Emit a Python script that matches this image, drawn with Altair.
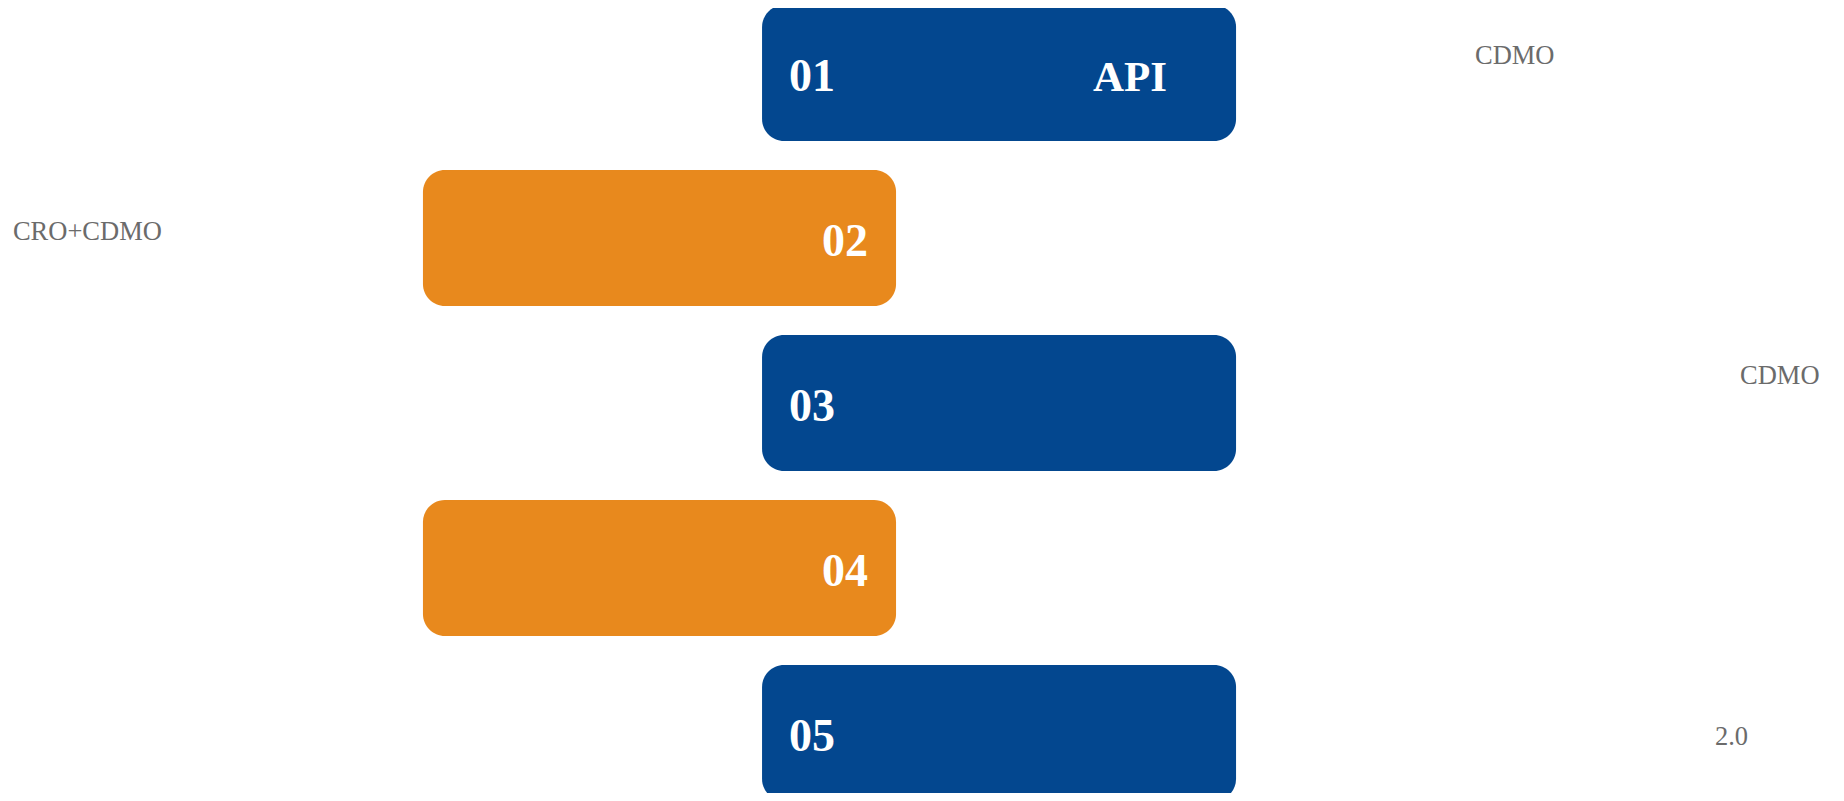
import altair as alt
import pandas as pd

# --- data -------------------------------------------------------------
steps = ["01", "02", "03", "04", "05"]
rows = [1, 2, 3, 4, 5]
box_start = [41.25, 22.70, 41.25, 22.70, 41.25]
box_end = [67.18, 48.58, 67.18, 48.58, 67.18]
groups = ["blue", "orange", "blue", "orange", "blue"]

inner_labels = ["API"]
inner_x = [59.35]
inner_row = [1]

side_labels = ["CDMO", "CRO+CDMO", "CDMO", "2.0"]
side_x = [80.25, 0.27, 94.75, 93.38]
side_y = [0.945, 2.012, 2.885, 5.072]

# --- tables -----------------------------------------------------------
boxes = pd.DataFrame({"step": steps, "row": rows, "start": box_start,
                      "end": box_end, "group": groups})
inner = pd.DataFrame({"label": inner_labels, "x": inner_x, "row": inner_row})
side = pd.DataFrame({"label": side_labels, "x": side_x, "y": side_y})

W, H = 1828, 785
xs = alt.Scale(domain=[0, 100], nice=False, zero=False)
ys = alt.Scale(domain=[0.606, 5.364], nice=False, zero=False, reverse=True)
cs = alt.Scale(domain=["blue", "orange"], range=["#03478F", "#E8891D"])

base = alt.Chart(boxes)

rects = base.transform_calculate(
    top="datum.row - 0.412", bottom="datum.row + 0.412"
).mark_rect(cornerRadius=22).encode(
    x=alt.X("start:Q", scale=xs, axis=None),
    x2="end:Q",
    y=alt.Y("top:Q", scale=ys, axis=None),
    y2="bottom:Q",
    color=alt.Color("group:N", scale=cs, legend=None),
)

num_font = dict(font="Liberation Serif", fontSize=46, fontWeight="bold",
                color="white", baseline="alphabetic", dy=18)

nums_left = base.transform_filter("datum.group == 'blue'").mark_text(
    align="left", dx=27, **num_font
).encode(
    x=alt.X("start:Q", scale=xs, axis=None),
    y=alt.Y("row:Q", scale=ys, axis=None),
    text="step:N",
)

nums_right = base.transform_filter("datum.group == 'orange'").mark_text(
    align="right", dx=-28, **num_font
).encode(
    x=alt.X("end:Q", scale=xs, axis=None),
    y=alt.Y("row:Q", scale=ys, axis=None),
    text="step:N",
)

inner_text = alt.Chart(inner).mark_text(
    align="left", font="Liberation Serif", fontSize=43, fontWeight="bold",
    color="white", baseline="alphabetic", dy=18
).encode(
    x=alt.X("x:Q", scale=xs, axis=None),
    y=alt.Y("row:Q", scale=ys, axis=None),
    text="label:N",
)

side_text = alt.Chart(side).mark_text(
    align="left", font="Liberation Serif", fontSize=26.5, color="#6B6B6B",
    baseline="alphabetic"
).encode(
    x=alt.X("x:Q", scale=xs, axis=None),
    y=alt.Y("y:Q", scale=ys, axis=None),
    text="label:N",
)

chart = alt.layer(rects, nums_left, nums_right, inner_text, side_text).properties(
    width=W, height=H, padding=0,
    autosize=alt.AutoSizeParams(type="none"),
).configure_view(strokeOpacity=0, strokeWidth=0, stroke="white")

chart.save("out.html", embed_options={"renderer": "svg", "actions": False})
